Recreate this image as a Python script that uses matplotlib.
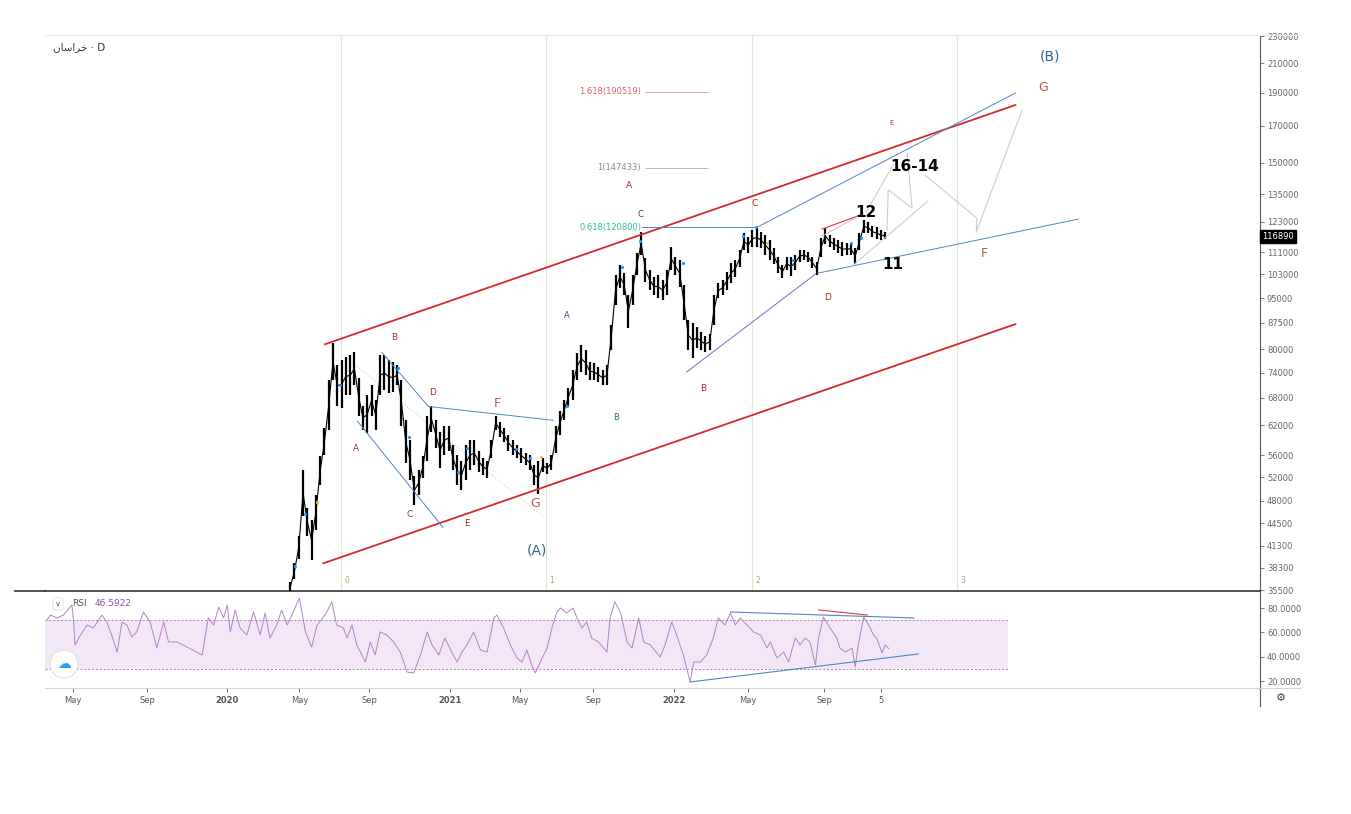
import numpy as np
import matplotlib.pyplot as plt
from matplotlib.patches import Ellipse
from matplotlib.lines import Line2D
from matplotlib.ticker import FixedLocator, FixedFormatter, NullLocator
import matplotlib.transforms as mtrans

# x axis is in days counted from 2020-01-01
# weekly bars, price in thousands of rials
bar_start = 103
bar_step = 7
bar_hi = [36.5, 38.9, 42.7, 53.2, 46.9, 45.0, 49.0, 55.8, 61.3, 72.1,
          81.7, 75.8, 77.1, 77.9, 78.4, 79.2, 72.6, 66.2, 68.5, 70.9,
          67.4, 78.4, 78.4, 77.1, 76.6, 75.8, 72.1, 63.0, 58.9, 52.3,
          53.2, 55.9, 64.0, 66.2, 63.0, 60.5, 61.9, 61.9, 57.9, 56.0,
          55.0, 57.9, 58.9, 58.9, 56.9, 55.4, 55.0, 58.9, 64.0, 62.6,
          61.3, 59.9, 58.9, 57.9, 57.3, 56.5, 56.0, 54.1, 55.0, 55.4,
          54.6, 56.0, 61.9, 65.1, 67.4, 70.2, 74.6, 79.0, 81.1, 79.8,
          76.6, 76.3, 75.3, 74.6, 75.8, 86.8, 102.8, 106.3, 103.4, 96.0,
          102.8, 110.7, 118.8, 108.8, 104.5, 102.0, 102.8, 101.0, 104.5, 113.0,
          109.2, 108.1, 99.3, 88.3, 87.4, 86.2, 84.7, 83.6, 84.4, 96.0,
          100.0, 101.0, 103.8, 107.0, 108.1, 111.8, 118.4, 116.8, 119.6, 120.4,
          118.8, 117.6, 115.6, 112.6, 109.2, 106.3, 109.2, 109.2, 109.9, 111.8,
          111.8, 111.1, 109.2, 107.3, 116.4, 120.4, 117.6, 116.4, 115.6, 114.8,
          114.5, 114.5, 112.6, 118.4, 123.7, 122.8, 121.2, 120.8, 119.6, 118.8]
bar_lo = [35.3, 36.9, 39.5, 45.7, 42.7, 39.3, 43.5, 50.6, 56.0, 60.9,
          72.1, 66.2, 65.6, 68.5, 68.5, 70.9, 64.0, 60.9, 60.3, 64.0,
          60.9, 68.5, 69.7, 69.0, 69.2, 70.9, 61.9, 54.5, 51.5, 47.3,
          48.9, 51.9, 55.0, 60.5, 57.3, 53.6, 56.0, 56.9, 53.2, 50.6,
          49.8, 51.5, 53.2, 54.1, 52.9, 52.4, 51.9, 55.4, 60.9, 59.5,
          58.5, 56.9, 56.0, 55.4, 54.6, 54.1, 53.2, 50.6, 49.1, 52.9,
          52.5, 53.2, 56.5, 59.9, 63.0, 66.2, 67.4, 72.1, 74.1, 73.3,
          72.1, 72.1, 71.6, 70.9, 70.9, 79.8, 92.8, 98.3, 96.0, 86.1,
          92.8, 102.8, 109.9, 100.3, 97.7, 96.0, 95.0, 94.4, 96.0, 104.5,
          102.8, 98.7, 88.3, 79.8, 77.7, 80.3, 79.8, 79.3, 79.8, 86.8,
          95.0, 96.0, 97.7, 100.0, 102.0, 105.6, 111.8, 110.7, 113.0, 113.0,
          112.6, 110.0, 108.1, 106.6, 103.4, 101.7, 104.5, 102.4, 104.5, 107.3,
          108.1, 107.3, 105.2, 102.8, 109.2, 114.1, 113.0, 111.8, 110.7, 109.6,
          110.0, 110.0, 106.6, 111.8, 118.4, 118.4, 116.8, 116.0, 115.6, 116.0]
last_close = 116890

rsi_day = [-295, -289, -278, -268, -254, -251, -249, -240, -229, -219,
           -205, -197, -189, -180, -172, -164, -156, -148, -137, -126,
           -115, -104, -96, -82, -66, -50, -41, -31, -22, -14,
           -6, 0, 5, 13, 21, 32, 43, 54, 62, 70,
           81, 89, 98, 108, 118, 128, 138, 147, 160, 171,
           179, 190, 196, 204, 212, 226, 234, 242, 250, 261,
           272, 283, 294, 305, 316, 327, 335, 346, 356, 367,
           376, 384, 392, 403, 414, 425, 436, 441, 452, 463,
           474, 482, 490, 498, 504, 512, 523, 531, 539, 545,
           555, 566, 572, 580, 588, 596, 607, 621, 626, 634,
           643, 654, 662, 673, 681, 692, 708, 716, 727, 735,
           746, 757, 763, 774, 784, 795, 803, 814, 823, 831,
           839, 850, 861, 872, 883, 888, 899, 910, 918, 929,
           937, 945, 953, 962, 967, 975, 986, 997, 1002, 1011,
           1022, 1027, 1032, 1041, 1049, 1057, 1062, 1071, 1076, 1082]
rsi_val = [70.1, 74.2, 71.8, 74.2, 82.5, 68.5, 49.6, 57.8, 66.0, 63.6,
           74.2, 68.5, 57.8, 43.8, 68.5, 66.0, 56.2, 60.3, 76.7, 68.5,
           47.1, 68.5, 52.1, 52.1, 47.9, 43.8, 41.4, 71.8, 66.0, 80.8,
           71.8, 82.5, 60.3, 78.4, 63.6, 57.8, 76.7, 57.8, 75.9, 55.3,
           66.0, 78.4, 66.0, 76.7, 88.2, 60.3, 47.9, 66.0, 74.2, 84.9,
           66.0, 63.6, 55.3, 66.0, 49.6, 35.6, 52.1, 41.4, 60.3, 57.8,
           52.1, 43.8, 27.4, 26.6, 41.4, 60.3, 49.6, 41.4, 55.3, 43.8,
           35.6, 43.8, 49.6, 60.3, 45.5, 43.8, 71.8, 74.2, 63.6, 49.6,
           38.9, 35.6, 45.5, 33.1, 26.6, 35.6, 47.1, 63.6, 76.7, 80.0,
           75.9, 80.0, 71.8, 63.6, 68.5, 55.3, 52.1, 43.8, 71.8, 84.9,
           76.7, 52.1, 47.1, 71.8, 52.1, 49.6, 39.7, 49.6, 68.5, 57.8,
           41.4, 19.2, 35.6, 35.6, 41.4, 55.3, 71.8, 66.0, 75.9, 66.0,
           71.8, 66.0, 60.3, 57.8, 47.1, 52.1, 38.9, 43.8, 35.6, 55.3,
           49.6, 55.3, 52.1, 33.1, 55.3, 72.6, 63.6, 55.3, 47.1, 43.8,
           47.1, 31.5, 49.6, 72.6, 66.0, 57.8, 55.3, 43.0, 49.6, 46.6]
rsi_last = "46.5922"

date_tick_day = [-253, -131, 0, 118, 232, 365, 479, 599, 731, 852, 976, 1069]
date_tick_lab = ["May", "Sep", "2020", "May", "Sep", "2021", "May", "Sep",
                 "2022", "May", "Sep", "5"]
price_ticks = [230000, 210000, 190000, 170000, 150000, 135000, 123000, 111000,
               103000, 95000, 87500, 80000, 74000, 68000, 62000, 56000, 52000,
               48000, 44500, 41300, 38300, 35500]
rsi_ticks = [80, 60, 40, 20]

cycle_day = [186, 522, 859, 1194]
cycle_lab = ["0", "1", "2", "3"]

fib_lab = ["1.618(190519)", "1(147433)", "0.618(120800)"]
fib_val = [190519, 147433, 120800]
fib_col = ["#e06060", "#8a8a8a", "#2cbf9e"]

# channel and wave lines: (days, prices in thousands)
red_channel = [([160, 1289], [81.4, 182.3]), ([157, 1289], [38.9, 87.1])]
blue_lines = [([253, 329], [79.2, 66.0]), ([329, 533], [66.0, 63.0]),
              ([213, 353], [62.8, 43.9]), ([679, 867], [120.8, 120.8]),
              ([867, 1289], [120.8, 189.8]), ([965, 1392], [103.4, 124.1])]
purple_line = ([751, 962], [74.1, 103.1])
red_thin = ([973, 1035], [120.0, 125.8])
gray_lines = [([973, 1030], [117.2, 125.0]),
              ([1024, 1146], [106.3, 131.9]),
              ([1045, 1089], [127.1, 149.0]),
              ([1079, 1081, 1120, 1112], [119.6, 136.9, 128.8, 154.8]),
              ([1141, 1226, 1225, 1300], [144.0, 124.5, 118.8, 179.3])]
dotted_line = ([190, 520], [78.4, 45.3])

blue_dot_day = [111, 128, 185, 280, 298, 378, 392, 473, 495, 556, 646, 675,
                746, 844, 865, 926, 1020, 1037]
blue_dot_val = [38.6, 46.0, 70.9, 75.1, 59.5, 52.9, 57.3, 57.1, 55.4, 66.0,
                105.5, 115.2, 107.0, 117.2, 120.8, 108.1, 114.5, 116.4]
yellow_dot_day = [147, 513, 883]
yellow_dot_val = [47.9, 55.6, 114.5]

rsi_lines = [([823, 1123], [76.7, 71.8], "#4f86c6"),
             ([757, 1130], [19.2, 42.2], "#4f86c6"),
             ([967, 1047], [78.4, 74.2], "#d9453a")]

# wave labels: text, day, price (k), colour, size, weight
wave_labels = [
    ("B", 273, 83.4, "#a3302a", 6.5, "normal"),
    ("A", 211, 57.3, "#a3302a", 6.5, "normal"),
    ("C", 299, 45.8, "#a3302a", 6.5, "normal"),
    ("D", 335, 69.2, "#a3302a", 6.5, "normal"),
    ("E", 392, 44.5, "#a3302a", 6.5, "normal"),
    ("F", 442, 66.7, "#c25450", 9, "normal"),
    ("G", 504, 47.6, "#c25450", 9, "normal"),
    ("(A)", 507, 40.6, "#2f6590", 10, "normal"),
    ("A", 556, 89.8, "#2e4f7f", 6, "normal"),
    ("B", 636, 63.6, "#1f6f7f", 6, "normal"),
    ("C", 675, 126.2, "#34405f", 6, "normal"),
    ("A", 657, 139.2, "#a3302a", 6.5, "normal"),
    ("C", 862, 130.9, "#a3302a", 6.5, "normal"),
    ("B", 778, 70.2, "#a3302a", 6.5, "normal"),
    ("D", 981, 95.4, "#a3302a", 6.5, "normal"),
    ("E", 1086, 171.6, "#a3302a", 5, "normal"),
    ("12", 1045, 127.1, "black", 11, "bold"),
    ("11", 1089, 106.6, "black", 11, "bold"),
    ("16-14", 1125, 148.0, "black", 11, "bold"),
    ("(B)", 1346, 214.4, "#2f6590", 10, "normal"),
    ("G", 1334, 193.1, "#c25450", 9, "normal"),
    ("F", 1238, 110.7, "#c25450", 9, "normal"),
]

# خراسان in Arabic presentation forms, visual (left-to-right) order
title_name = "\ufee5\ufe8e\ufeb3\ufe8d\ufeae\ufea7"

W, H = 1351, 814
fig = plt.figure(figsize=(W / 100, H / 100), dpi=100)
fig.patch.set_facecolor("white")
ax = fig.add_axes([45 / W, 1 - 591 / H, 1215 / W, 556 / H])
rx = fig.add_axes([45 / W, 1 - 688 / H, 1215 / W, 96 / H], sharex=ax)

K = 1000.0
x_lo, x_hi = -298, 1689

# ---- price panel
for d in cycle_day:
    ax.axvline(d, color="#dde7d2", lw=0.8, zorder=1)
tb = mtrans.blended_transform_factory(ax.transData, ax.transAxes)
for d, s in zip(cycle_day, cycle_lab):
    ax.text(d + 5, 0.011, s, transform=tb, fontsize=5.5, color="#8cc06a",
            ha="left", va="bottom")

bar_day = bar_start + bar_step * np.arange(len(bar_hi))
hi = np.array(bar_hi) * K
lo = np.array(bar_lo) * K
ax.vlines(bar_day, lo, hi, color="black", lw=1.6, zorder=3)
ax.plot(bar_day, np.sqrt(hi * lo), color="black", lw=0.8, zorder=3)

for xs, ys in red_channel:
    ax.plot(xs, np.array(ys) * K, color="#d42a2a", lw=1.3, zorder=4)
for xs, ys in blue_lines:
    ax.plot(xs, np.array(ys) * K, color="#4f86c6", lw=0.7, zorder=4)
ax.plot(purple_line[0], np.array(purple_line[1]) * K, color="#6d6fd2", lw=0.7, zorder=4)
ax.plot(red_thin[0], np.array(red_thin[1]) * K, color="#e03030", lw=0.8, zorder=4)
for xs, ys in gray_lines:
    ax.plot(xs, np.array(ys) * K, color="#cccccc", lw=0.8, zorder=4)
ax.plot(dotted_line[0], np.array(dotted_line[1]) * K, color="#c8c8c8", lw=0.7,
        ls=(0, (1, 2)), zorder=2)

ax.scatter(blue_dot_day, np.array(blue_dot_val) * K, s=5, color="#2196f3", zorder=5, lw=0)
ax.scatter(yellow_dot_day, np.array(yellow_dot_val) * K, s=5, color="#f2c21b", zorder=5, lw=0)

for s, v, c in zip(fib_lab, fib_val, fib_col):
    ax.text(677, v, s, ha="right", va="center", fontsize=6, color=c)
    if v != 120800:
        ax.hlines(v, 683, 787, color=c, lw=0.6, alpha=0.7)

for s, d, v, c, fs, fw in wave_labels:
    ax.text(d, v * K, s, ha="center", va="center", fontsize=fs, color=c,
            fontweight=fw, zorder=6)

ax.set_yscale("log")
ax.set_ylim(35440, 230780)
ax.set_xlim(x_lo, x_hi)
ax.yaxis.tick_right()
ax.yaxis.set_major_locator(FixedLocator(price_ticks))
ax.yaxis.set_major_formatter(FixedFormatter([str(p) for p in price_ticks]))
ax.yaxis.set_minor_locator(NullLocator())
ax.tick_params(axis="y", which="major", length=3, width=0.6, labelsize=6,
               colors="#666666", pad=2)
ax.tick_params(axis="x", bottom=False, labelbottom=False)
ax.spines["left"].set_visible(False)
ax.spines["top"].set_color("#e8e8e8")
ax.spines["top"].set_linewidth(0.8)
ax.spines["right"].set_color("#555555")
ax.spines["bottom"].set_color("#333333")
ax.spines["bottom"].set_linewidth(1.2)

ax.text(1.002, last_close, str(last_close), transform=mtrans.blended_transform_factory(
    ax.transAxes, ax.transData), fontsize=6, color="white", ha="left", va="center",
    bbox=dict(boxstyle="square,pad=0.25", fc="black", ec="black"), zorder=10)

# ---- RSI panel
rx.fill_between([x_lo, 1277], 30, 70, color="#f3e6f6", lw=0, zorder=1)
rx.hlines([70, 30], x_lo, 1277, color="#9f8aa8", lw=0.7, ls=(0, (2, 2)), zorder=2)
rx.plot(rsi_day, rsi_val, color="#b680c9", lw=0.7, zorder=3)
for xs, ys, c in rsi_lines:
    rx.plot(xs, ys, color=c, lw=0.8, zorder=4)

rx.set_ylim(14.25, 93.15)
rx.yaxis.tick_right()
rx.set_yticks(rsi_ticks)
rx.set_yticklabels(["%.4f" % t for t in rsi_ticks])
rx.tick_params(axis="y", length=3, width=0.6, labelsize=6, colors="#666666", pad=2)
rx.set_xticks(date_tick_day)
rx.set_xticklabels(date_tick_lab)
rx.tick_params(axis="x", length=3, width=0.6, labelsize=6, colors="#555555", pad=3)
for t in rx.get_xticklabels():
    if t.get_text().startswith("20"):
        t.set_fontweight("bold")
rx.spines["left"].set_visible(False)
rx.spines["top"].set_visible(False)
rx.spines["right"].set_color("#555555")
rx.spines["bottom"].set_color("#d4d4d4")

fig.text(72 / W, 1 - 604 / H, "RSI", fontsize=6.5, color="#555555", va="center")
fig.text(95 / W, 1 - 604 / H, rsi_last, fontsize=6.5, color="#8e4fa6", va="center")
fig.text(58 / W, 1 - 604 / H, "v", fontsize=5, color="#444444", va="center", ha="center",
         bbox=dict(boxstyle="round,pad=0.45", fc="white", ec="#dddddd", lw=0.6))

# TradingView badge
fig.add_artist(Ellipse((64 / W, 1 - 664 / H), 28 / W, 28 / H, fc="white",
                       ec="#e2e2e2", lw=0.8, transform=fig.transFigure))
fig.text(64 / W, 1 - 664 / H, "\u2601", fontsize=10, color="#2a9df4",
         ha="center", va="center")

# frame lines outside the axes
fig.add_artist(Line2D([15 / W, 45 / W], [1 - 591 / H] * 2, color="#333333", lw=1.2))
fig.add_artist(Line2D([1260 / W] * 2, [1 - 688 / H, 1 - 706 / H], color="#555555", lw=0.8))
fig.add_artist(Line2D([1260 / W, 1300 / W], [1 - 35 / H] * 2, color="#e8e8e8", lw=0.8))
fig.add_artist(Line2D([1260 / W, 1300 / W], [1 - 688 / H] * 2, color="#d4d4d4", lw=0.8))

fig.text(1281 / W, 1 - 698 / H, "\u2699", fontsize=8, color="#444444",
         ha="center", va="center")

fig.text(53 / W, 1 - 47 / H, title_name + " \u00b7 D", fontsize=7.5, color="#333333",
         va="center", ha="left", family="DejaVu Sans")

fig.savefig("out.png", dpi=100)
